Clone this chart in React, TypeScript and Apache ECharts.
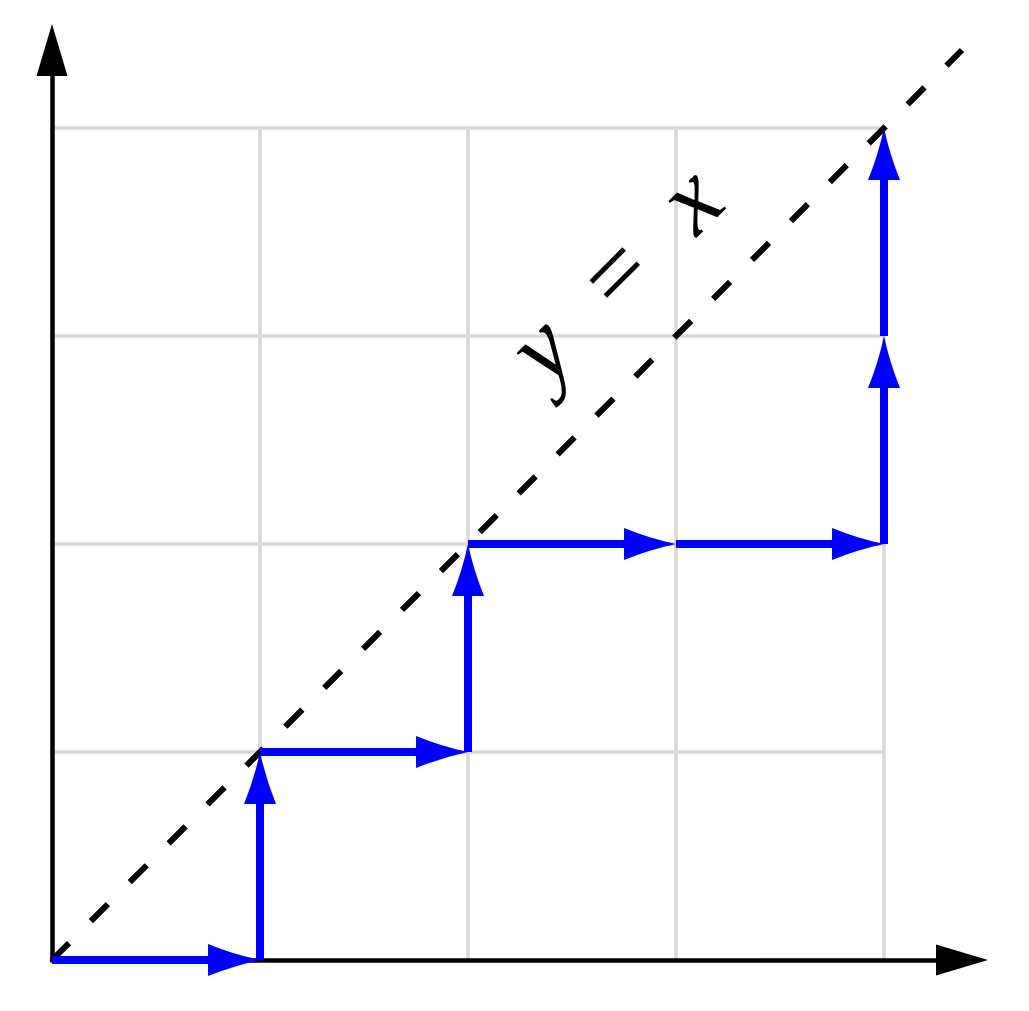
import React, { useEffect, useRef } from "react";
import * as echarts from "echarts";

// Unit grid (drawn from 0 to gridMax on both axes)
const gridTicks = [0, 1, 2, 3, 4];
const gridMax = 4;
// Axis extent (arrow heads sit at the end)
const axisMax = 4.375;
// Dashed diagonal y = x
const diagonal = [
  [0, 0],
  [4.375, 4.375],
];
// Staircase path: [x1, y1, x2, y2]
const pathSegments = [
  [0, 0, 1, 0],
  [1, 0, 1, 1],
  [1, 1, 2, 1],
  [2, 1, 2, 2],
  [2, 2, 3, 2],
  [3, 2, 4, 2],
  [4, 2, 4, 3],
  [4, 3, 4, 4],
];
// Label of the diagonal
const labelText = "y\u2002=\u2002x";
const labelAnchor = [[2.702, 3.303]];

const BLUE = "#0000ff";

export default function App() {
  const ref = useRef<HTMLDivElement>(null);

  useEffect(() => {
    if (!ref.current) return;
    const chart = echarts.init(ref.current, undefined, { renderer: "svg" });

    const option: any = {
      animation: false,
      backgroundColor: "#ffffff",
      grid: { left: 52, top: 50, width: 910, height: 910, containLabel: false },
      xAxis: {
        type: "value",
        min: 0,
        max: axisMax,
        axisLine: {
          show: true,
          onZero: false,
          symbol: ["none", "triangle"],
          symbolSize: [31, 52],
          lineStyle: { color: "#000000", width: 4.5 },
        },
        axisTick: { show: false },
        axisLabel: { show: false },
        splitLine: { show: false },
      },
      yAxis: {
        type: "value",
        min: 0,
        max: axisMax,
        axisLine: {
          show: true,
          onZero: false,
          symbol: ["none", "triangle"],
          symbolSize: [31, 52],
          lineStyle: { color: "#000000", width: 4.5 },
        },
        axisTick: { show: false },
        axisLabel: { show: false },
        splitLine: { show: false },
      },
      series: [
        {
          type: "custom",
          z: -1,
          silent: true,
          data: gridTicks.map((v) => [v, v]),
          renderItem: (params: any, api: any) => {
            const v = api.value(0);
            const a = api.coord([v, 0]);
            const b = api.coord([v, gridMax]);
            const c = api.coord([0, v]);
            const d = api.coord([gridMax, v]);
            const st = { stroke: "#d9d9d9", lineWidth: 3.5 };
            return {
              type: "group",
              children: [
                { type: "line", shape: { x1: a[0], y1: a[1], x2: b[0], y2: b[1] }, style: st },
                { type: "line", shape: { x1: c[0], y1: c[1], x2: d[0], y2: d[1] }, style: st },
              ],
            };
          },
        },
        {
          type: "line",
          z: 2,
          silent: true,
          data: diagonal,
          symbol: "none",
          lineStyle: { color: "#000000", width: 6, type: [24, 31], cap: "butt" },
        },
        {
          type: "custom",
          z: 3,
          silent: true,
          data: pathSegments,
          encode: { x: [0, 2], y: [1, 3] },
          renderItem: (params: any, api: any) => {
            const p1 = api.coord([api.value(0), api.value(1)]);
            const p2 = api.coord([api.value(2), api.value(3)]);
            const dx = p2[0] - p1[0];
            const dy = p2[1] - p1[1];
            const len = Math.hypot(dx, dy);
            const ux = dx / len;
            const uy = dy / len;
            const px = -uy;
            const py = ux;
            const L = 52;
            const W = 16;
            const bx = p2[0] - ux * L;
            const by = p2[1] - uy * L;
            const c1x = bx + px * W;
            const c1y = by + py * W;
            const c2x = bx - px * W;
            const c2y = by - py * W;
            // slightly concave sides
            const m1x = (c1x + p2[0]) / 2 - px * 2.5;
            const m1y = (c1y + p2[1]) / 2 - py * 2.5;
            const m2x = (c2x + p2[0]) / 2 + px * 2.5;
            const m2y = (c2y + p2[1]) / 2 + py * 2.5;
            const pathData =
              `M${p2[0]},${p2[1]} Q${m1x},${m1y} ${c1x},${c1y} L${c2x},${c2y} Q${m2x},${m2y} ${p2[0]},${p2[1]} Z`;
            return {
              type: "group",
              children: [
                {
                  type: "line",
                  shape: { x1: p1[0], y1: p1[1], x2: bx + ux * 10, y2: by + uy * 10 },
                  style: { stroke: BLUE, lineWidth: 8 },
                },
                {
                  type: "path",
                  shape: { pathData },
                  style: { fill: BLUE, stroke: "none" },
                },
              ],
            };
          },
        },
        {
          type: "custom",
          z: 4,
          silent: true,
          data: labelAnchor,
          renderItem: (params: any, api: any) => {
            const p = api.coord([api.value(0), api.value(1)]);
            return {
              type: "text",
              x: p[0],
              y: p[1],
              rotation: Math.PI / 4,
              style: {
                text: labelText,
                fontSize: 100,
                fontFamily: "Liberation Serif",
                fontStyle: "italic",
                fill: "#000000",
                align: "center",
                verticalAlign: "middle",
              },
            };
          },
        },
      ],
    };

    chart.setOption(option);
    return () => chart.dispose();
  }, []);

  return (
    <div
      ref={ref}
      style={{ position: "absolute", left: 0, top: 0, width: 1029, height: 1011, background: "#fff" }}
    />
  );
}
